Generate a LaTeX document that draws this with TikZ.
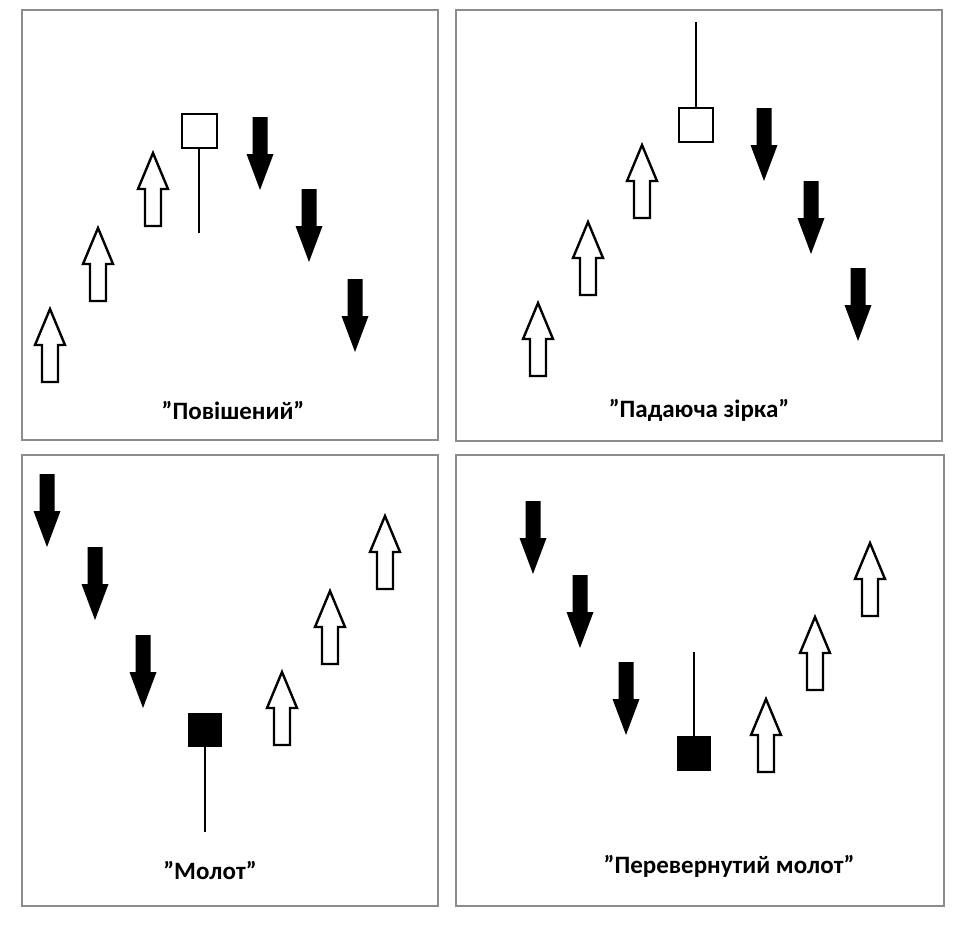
\documentclass[tikz,border=0pt]{standalone}
\usepackage{fontspec}
\setmainfont{Carlito}
\begin{document}
\begin{tikzpicture}[x=1pt,y=-1pt,
  panel/.style={draw=gray!90, line width=2pt},
  lbl/.style={font=\bfseries\fontsize{25}{28}\selectfont},
  upa/.pic={\draw[line width=2.4pt, fill=white, line join=miter] (-8,73)--(-8,36)--(-15,36)--(0,0)--(15,36)--(8,36)--(8,73)--cycle;},
  dna/.pic={\fill[black] (-7.5,0)--(7.5,0)--(7.5,37)--(13.5,37)--(0,73)--(-13.5,37)--(-7.5,37)--cycle;}]
\useasboundingbox (0,0) rectangle (964,924);
\draw[panel] (22,10) rectangle (438,440);
\draw[panel] (456,10) rectangle (942,441);
\draw[panel] (22,455) rectangle (438,906);
\draw[panel] (456,455) rectangle (944,906);
% TL
\pic at (50,309) {upa}; \pic at (98,228) {upa}; \pic at (153,153) {upa};
\pic at (260,117) {dna}; \pic at (309,189) {dna}; \pic at (355,279) {dna};
\draw[line width=1.3pt] (199,148)--(199,233);
\draw[line width=1.3pt, fill=white] (182,114) rectangle (217,148);
\node[lbl] (t1) at (233,410) {"Повішений"};
% TR
\pic at (538,303) {upa}; \pic at (588,222) {upa}; \pic at (642,145) {upa};
\pic at (764,108) {dna}; \pic at (811,181) {dna}; \pic at (858,268) {dna};
\draw[line width=1.3pt] (696,22)--(696,108);
\draw[line width=1.3pt, fill=white] (679,108) rectangle (713,142);
\node[lbl] (t2) at (699,410) {"Падаюча зірка"};
% BL
\pic at (47,474) {dna}; \pic at (95,547) {dna}; \pic at (143,635) {dna};
\pic at (282,672) {upa}; \pic at (330,591) {upa}; \pic at (385,516) {upa};
\draw[line width=1.3pt] (205,747)--(205,832);
\fill[black] (188,713) rectangle (222,747);
\node[lbl] (t3) at (210,870) {"Молот"};
% BR
\pic at (533,501) {dna}; \pic at (580,575) {dna}; \pic at (626,662) {dna};
\pic at (766,699) {upa}; \pic at (815,617) {upa}; \pic at (870,543) {upa};
\draw[line width=1.3pt] (694,652)--(694,736);
\fill[black] (677,736) rectangle (711,771);
\node[lbl] (t4) at (729,866) {"Перевернутий молот"};
\end{tikzpicture}
\end{document}
